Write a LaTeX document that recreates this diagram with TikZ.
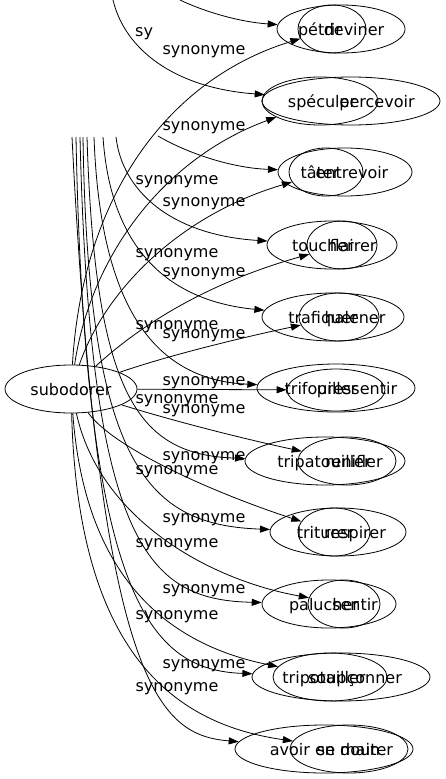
\documentclass[tikz,border=0pt]{standalone}
\usepackage{fontspec}
\setmainfont{DejaVu Sans}
\usetikzlibrary{shapes.geometric,arrows.meta}

\begin{document}
\begin{tikzpicture}
[
  x=1pt, y=-1pt,
  txt/.style={font=\fontsize{16}{18}\selectfont, inner sep=0pt, text height=13pt, text depth=1pt},
  word/.style={ellipse, draw, line width=0.8pt, inner sep=0pt, minimum height=48pt},
  syn/.style={-{Triangle[length=10pt,width=7pt]}, line width=0.8pt}
]
\useasboundingbox (0,0) rectangle (446,779);

\node[word, txt, minimum width=132pt] (sub) at (71,389) {subodorer};

% ellipses, outer and inner
\node[word, minimum width=128pt] (petrir) at (341,29) {};
\node[word, minimum width=68pt] (deviner) at (332,29) {};
\node[word, minimum width=178pt] (speculer) at (351,101) {};
\node[word, minimum width=116pt] (percevoir) at (320,101) {};
\node[word, minimum width=134pt] (tater) at (345,172) {};
\node[word, minimum width=74pt] (entrevoir) at (326,172) {};
\node[word, minimum width=130pt] (toucher) at (332,245) {};
\node[word, minimum width=70pt] (flairer) at (342,245) {};
\node[word, minimum width=142pt] (trafiquer) at (333,317) {};
\node[word, minimum width=80pt] (halener) at (339,317) {};
\node[word, minimum width=158pt] (trifouiller) at (336,388) {};
\node[word, minimum width=98pt, minimum height=42pt] (pressentir) at (336,390) {};
\node[word, minimum width=160pt] (tripatouiller) at (325,461) {};
\node[word, minimum width=98pt] (renifler) at (347,461) {};
\node[word, minimum width=136pt] (triturer) at (338,532) {};
\node[word, minimum width=72pt] (respirer) at (334,532) {};
\node[word, minimum width=134pt] (palucher) at (329,604) {};
\node[word, minimum width=72pt] (sentir) at (344,604) {};
\node[word, minimum width=178pt] (tripotailler) at (341,677) {};
\node[word, minimum width=114pt] (soupconner) at (330,677) {};
\node[word, minimum width=178pt] (avoirenmain) at (324,749) {};
\node[word, minimum width=118pt] (sedouter) at (349,749) {};

% texts
\node[txt] (tpetrir) at (320,29) {pétrir};
\node[txt] (tdeviner) at (354,29) {deviner};
\node[txt] (tspeculer) at (322,101) {spéculer};
\node[txt] (tpercevoir) at (377,101) {percevoir};
\node[txt] (ttater) at (320,172) {tâter};
\node[txt] (tentrevoir) at (352,172) {entrevoir};
\node[txt] (ttoucher) at (323,245) {toucher};
\node[txt] (tflairer) at (353,245) {flairer};
\node[txt] (ttrafiquer) at (323,317) {trafiquer};
\node[txt] (thalener) at (355,317) {halener};
\node[txt] (ttrifouiller) at (321,388) {trifouiller};
\node[txt] (tpressentir) at (357,388) {pressentir};
\node[txt] (ttripatouiller) at (324,461) {tripatouiller};
\node[txt] (trenifler) at (354,461) {renifler};
\node[txt] (ttriturer) at (325,532) {triturer};
\node[txt] (trespirer) at (355,532) {respirer};
\node[txt] (tpalucher) at (324,604) {palucher};
\node[txt] (tsentir) at (355,604) {sentir};
\node[txt] (ttripotailler) at (324,677) {tripotailler};
\node[txt] (tsoupconner) at (355,677) {soupçonner};
\node[txt] (tavoirenmain) at (325,749) {avoir en main};
\node[txt] (tsedouter) at (355,749) {se douter};

% free ends of the other edges
\coordinate (b1) at (180,0);
\coordinate (b2) at (113,0);
\coordinate (b3) at (158,136);
\coordinate (b4) at (116,137);
\coordinate (b5) at (103,137);
\coordinate (b6) at (94,137);
\coordinate (b7) at (87,137);
\coordinate (b8) at (83,137);
\coordinate (b9) at (80,137);
\coordinate (b10) at (76,137);
\coordinate (b11) at (72,137);

% edges from subodorer
\draw[syn] (sub) .. controls (82,200) and (165,80) .. (deviner);
\draw[syn] (sub) .. controls (90,260) and (160,160) .. (percevoir);
\draw[syn] (sub) .. controls (105,290) and (180,215) .. (entrevoir);
\draw[syn] (sub) .. controls (135,330) and (200,285) .. (flairer);
\draw[syn] (sub) .. controls (170,355) and (240,338) .. (halener);
\draw[syn] (sub) -- (pressentir);
\draw[syn] (sub) .. controls (170,420) and (240,438) .. (renifler);
\draw[syn] (sub) .. controls (115,450) and (220,495) .. (respirer);
\draw[syn] (sub) .. controls (100,520) and (210,580) .. (sentir);
\draw[syn] (sub) .. controls (85,580) and (170,645) .. (soupconner);
\draw[syn] (sub) .. controls (78,660) and (180,725) .. (sedouter);

% edges from the top
\draw[syn] (b1) .. controls (205,12) and (240,22) .. (petrir);
\draw[syn] (b2) .. controls (125,50) and (175,88) .. (speculer);
\draw[syn] (b3) .. controls (185,152) and (230,168) .. (tater);
\draw[syn] (b4) .. controls (122,190) and (170,235) .. (toucher);
\draw[syn] (b5) .. controls (110,240) and (160,300) .. (trafiquer);
\draw[syn] (b6) .. controls (100,300) and (150,380) .. (trifouiller);
\draw[syn] (b7) .. controls (95,400) and (140,455) .. (tripatouiller);
\draw[syn] (b8) .. controls (88,470) and (150,525) .. (triturer);
\draw[syn] (b9) .. controls (90,550) and (150,600) .. (palucher);
\draw[syn] (b10) .. controls (85,600) and (150,670) .. (tripotailler);
\draw[syn] (b11) .. controls (100,690) and (160,735) .. (avoirenmain);

% edge labels
\node[txt] (la1) at (204,48) {synonyme};
\node[txt] (la2) at (204,124) {synonyme};
\node[txt] (la3) at (204,200) {synonyme};
\node[txt] (la4) at (204,270) {synonyme};
\node[txt] (la5) at (204,332) {synonyme};
\node[txt] (la6) at (204,379) {synonyme};
\node[txt] (la7) at (204,407) {synonyme};
\node[txt] (la8) at (204,454) {synonyme};
\node[txt] (la9) at (204,516) {synonyme};
\node[txt] (la10) at (204,587) {synonyme};
\node[txt] (la11) at (204,662) {synonyme};

\node[txt, anchor=west] (lb2) at (135,30) {sy};
\node[txt] (lb4) at (177,178) {synonyme};
\node[txt] (lb5) at (177,251) {synonyme};
\node[txt] (lb6) at (177,323) {synonyme};
\node[txt] (lb7) at (177,397) {synonyme};
\node[txt] (lb8) at (177,468) {synonyme};
\node[txt] (lb9) at (177,541) {synonyme};
\node[txt] (lb10) at (177,613) {synonyme};
\node[txt] (lb11) at (177,685) {synonyme};

\end{tikzpicture}
\end{document}
